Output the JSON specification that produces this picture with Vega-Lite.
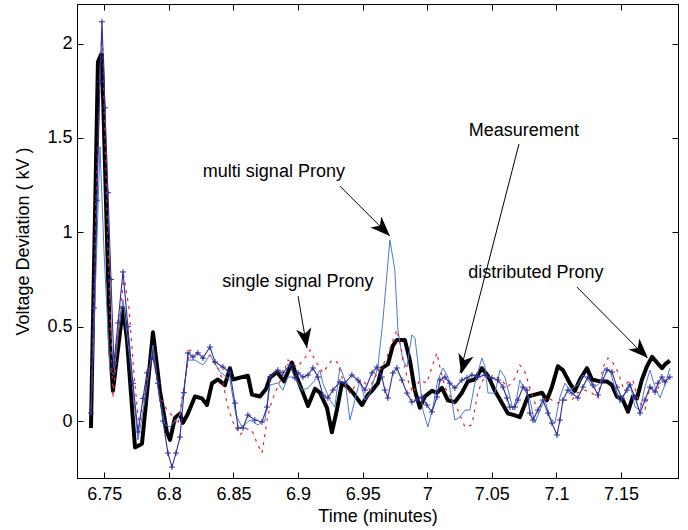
{
  "$schema": "https://vega.github.io/schema/vega-lite/v6.json",
  "width": 601,
  "height": 474,
  "autosize": "none",
  "padding": {"left": 77, "top": 4, "right": 10, "bottom": 52},
  "background": "white",
  "config": {
    "view": {"stroke": "black", "strokeWidth": 1},
    "axis": {"grid": false, "domainColor": "black", "domainWidth": 1, "tickColor": "black", "tickSize": -6, "tickWidth": 1, "labelColor": "black", "labelFont": "Liberation Sans", "labelFontSize": 18, "titleFont": "Liberation Sans", "titleFontSize": 18, "titleFontWeight": "normal", "titleColor": "black"}
  },
  "datasets": {
    "meas": [
      {"t": 6.7397, "v": -0.037}, {"t": 6.7451, "v": 1.903}, {"t": 6.7474, "v": 1.941}, {"t": 6.7482, "v": 1.94},
      {"t": 6.7544, "v": 0.41}, {"t": 6.7567, "v": 0.16}, {"t": 6.7645, "v": 0.60}, {"t": 6.7676, "v": 0.43},
      {"t": 6.7738, "v": -0.14}, {"t": 6.7792, "v": -0.12}, {"t": 6.7877, "v": 0.47}, {"t": 6.7931, "v": 0.16},
      {"t": 6.7985, "v": -0.06}, {"t": 6.8009, "v": -0.10}, {"t": 6.8047, "v": 0.016}, {"t": 6.8086, "v": 0.04},
      {"t": 6.8109, "v": -0.01}, {"t": 6.8148, "v": 0.04}, {"t": 6.8202, "v": 0.13}, {"t": 6.8256, "v": 0.12},
      {"t": 6.8295, "v": 0.085}, {"t": 6.8334, "v": 0.20}, {"t": 6.838, "v": 0.22}, {"t": 6.8434, "v": 0.19},
      {"t": 6.8473, "v": 0.28}, {"t": 6.8496, "v": 0.22}, {"t": 6.855, "v": 0.23}, {"t": 6.8612, "v": 0.24},
      {"t": 6.8643, "v": 0.14}, {"t": 6.8705, "v": 0.13}, {"t": 6.8752, "v": 0.17}, {"t": 6.8783, "v": 0.23},
      {"t": 6.8837, "v": 0.26}, {"t": 6.8891, "v": 0.21}, {"t": 6.8953, "v": 0.31}, {"t": 6.8992, "v": 0.23},
      {"t": 6.9038, "v": 0.15}, {"t": 6.9077, "v": 0.08}, {"t": 6.9131, "v": 0.17}, {"t": 6.9169, "v": 0.15},
      {"t": 6.9224, "v": 0.07}, {"t": 6.9262, "v": -0.06}, {"t": 6.9301, "v": 0.06}, {"t": 6.934, "v": 0.20},
      {"t": 6.9386, "v": 0.18}, {"t": 6.9425, "v": 0.15}, {"t": 6.9495, "v": 0.085}, {"t": 6.9541, "v": 0.14},
      {"t": 6.9572, "v": 0.16}, {"t": 6.9618, "v": 0.20}, {"t": 6.9649, "v": 0.28}, {"t": 6.9695, "v": 0.30},
      {"t": 6.9734, "v": 0.40}, {"t": 6.9765, "v": 0.43}, {"t": 6.9827, "v": 0.43}, {"t": 6.9866, "v": 0.32},
      {"t": 6.9905, "v": 0.16}, {"t": 6.9943, "v": 0.07}, {"t": 6.9982, "v": 0.13}, {"t": 7.0036, "v": 0.16},
      {"t": 7.0075, "v": 0.15}, {"t": 7.0114, "v": 0.175}, {"t": 7.016, "v": 0.11}, {"t": 7.0214, "v": 0.10},
      {"t": 7.0268, "v": 0.15}, {"t": 7.0315, "v": 0.21}, {"t": 7.0369, "v": 0.22}, {"t": 7.0423, "v": 0.28},
      {"t": 7.047, "v": 0.24}, {"t": 7.0524, "v": 0.16}, {"t": 7.0578, "v": 0.095}, {"t": 7.0625, "v": 0.04},
      {"t": 7.0679, "v": 0.03}, {"t": 7.0717, "v": 0.02}, {"t": 7.0779, "v": 0.13}, {"t": 7.0833, "v": 0.14},
      {"t": 7.0888, "v": 0.15}, {"t": 7.0926, "v": 0.11}, {"t": 7.0965, "v": 0.18}, {"t": 7.1011, "v": 0.29},
      {"t": 7.105, "v": 0.27}, {"t": 7.1104, "v": 0.20}, {"t": 7.1143, "v": 0.16}, {"t": 7.1182, "v": 0.22},
      {"t": 7.1236, "v": 0.28}, {"t": 7.1275, "v": 0.22}, {"t": 7.1337, "v": 0.21}, {"t": 7.1391, "v": 0.21},
      {"t": 7.143, "v": 0.19}, {"t": 7.1468, "v": 0.13}, {"t": 7.1515, "v": 0.11}, {"t": 7.1554, "v": 0.05},
      {"t": 7.1592, "v": 0.13}, {"t": 7.1623, "v": 0.12}, {"t": 7.1662, "v": 0.22}, {"t": 7.1701, "v": 0.29},
      {"t": 7.174, "v": 0.34}, {"t": 7.1778, "v": 0.31}, {"t": 7.1817, "v": 0.28}, {"t": 7.184, "v": 0.30},
      {"t": 7.1878, "v": 0.32}
    ],
    "multi": [
      {"t": 6.7397, "v": 0.042}, {"t": 6.7436, "v": 0.80}, {"t": 6.7467, "v": 1.453}, {"t": 6.7498, "v": 0.90},
      {"t": 6.7544, "v": 0.270}, {"t": 6.7575, "v": 0.244}, {"t": 6.7606, "v": 0.45}, {"t": 6.7645, "v": 0.642},
      {"t": 6.7699, "v": 0.323}, {"t": 6.7761, "v": -0.101}, {"t": 6.7815, "v": 0.111}, {"t": 6.7877, "v": 0.403},
      {"t": 6.7931, "v": 0.111}, {"t": 6.797, "v": -0.02}, {"t": 6.8009, "v": -0.032}, {"t": 6.8047, "v": 0.0},
      {"t": 6.8086, "v": 0.032}, {"t": 6.8148, "v": 0.323}, {"t": 6.8202, "v": 0.323}, {"t": 6.8264, "v": 0.297},
      {"t": 6.8318, "v": 0.350}, {"t": 6.8396, "v": 0.260}, {"t": 6.8473, "v": 0.217}, {"t": 6.8519, "v": 0.032},
      {"t": 6.8566, "v": -0.032}, {"t": 6.8628, "v": 0.005}, {"t": 6.869, "v": -0.021}, {"t": 6.8744, "v": 0.005},
      {"t": 6.8783, "v": 0.191}, {"t": 6.8844, "v": 0.201}, {"t": 6.8883, "v": 0.164}, {"t": 6.8922, "v": 0.233},
      {"t": 6.8976, "v": 0.233}, {"t": 6.903, "v": 0.164}, {"t": 6.9077, "v": 0.175}, {"t": 6.9131, "v": 0.217},
      {"t": 6.9169, "v": 0.270}, {"t": 6.9192, "v": 0.201}, {"t": 6.9247, "v": 0.111}, {"t": 6.9285, "v": 0.074},
      {"t": 6.9324, "v": 0.286}, {"t": 6.9363, "v": 0.217}, {"t": 6.9402, "v": 0.005}, {"t": 6.944, "v": 0.111},
      {"t": 6.9479, "v": 0.217}, {"t": 6.9518, "v": 0.111}, {"t": 6.9556, "v": 0.148}, {"t": 6.9618, "v": 0.286},
      {"t": 6.9657, "v": 0.535}, {"t": 6.9711, "v": 0.960}, {"t": 6.9749, "v": 0.801}, {"t": 6.9773, "v": 0.483},
      {"t": 6.9811, "v": 0.323}, {"t": 6.9843, "v": 0.286}, {"t": 6.9881, "v": 0.456}, {"t": 6.9905, "v": 0.440},
      {"t": 6.9928, "v": 0.308}, {"t": 6.9966, "v": 0.058}, {"t": 7.0005, "v": -0.032}, {"t": 7.0044, "v": 0.074},
      {"t": 7.0082, "v": 0.217}, {"t": 7.0121, "v": 0.281}, {"t": 7.016, "v": 0.233}, {"t": 7.0191, "v": 0.111},
      {"t": 7.0214, "v": 0.005}, {"t": 7.0253, "v": 0.021}, {"t": 7.0292, "v": 0.058}, {"t": 7.033, "v": 0.058},
      {"t": 7.0369, "v": 0.201}, {"t": 7.0423, "v": 0.334}, {"t": 7.0447, "v": 0.286}, {"t": 7.047, "v": 0.148},
      {"t": 7.0524, "v": 0.148}, {"t": 7.0563, "v": 0.270}, {"t": 7.0601, "v": 0.233}, {"t": 7.064, "v": 0.127},
      {"t": 7.0663, "v": 0.058}, {"t": 7.0694, "v": 0.127}, {"t": 7.0717, "v": 0.217}, {"t": 7.0756, "v": 0.164},
      {"t": 7.0795, "v": 0.111}, {"t": 7.0833, "v": -0.011}, {"t": 7.0872, "v": 0.058}, {"t": 7.0911, "v": 0.111},
      {"t": 7.0949, "v": 0.021}, {"t": 7.0988, "v": -0.011}, {"t": 7.1027, "v": 0.127}, {"t": 7.1066, "v": 0.201},
      {"t": 7.1104, "v": 0.164}, {"t": 7.1166, "v": 0.191}, {"t": 7.1205, "v": 0.244}, {"t": 7.1244, "v": 0.217},
      {"t": 7.1283, "v": 0.175}, {"t": 7.1337, "v": 0.201}, {"t": 7.1375, "v": 0.281}, {"t": 7.1414, "v": 0.270},
      {"t": 7.1453, "v": 0.175}, {"t": 7.1493, "v": 0.095}, {"t": 7.153, "v": 0.148}, {"t": 7.1569, "v": 0.201},
      {"t": 7.1608, "v": 0.074}, {"t": 7.1647, "v": 0.058}, {"t": 7.1685, "v": 0.180}, {"t": 7.1724, "v": 0.270},
      {"t": 7.1763, "v": 0.180}, {"t": 7.1801, "v": 0.122}, {"t": 7.184, "v": 0.191}, {"t": 7.1878, "v": 0.281}
    ],
    "single": [
      {"t": 6.7397, "v": 0.04}, {"t": 6.7436, "v": 1.17}, {"t": 6.7482, "v": 2.09}, {"t": 6.7529, "v": 0.90},
      {"t": 6.7567, "v": 0.122}, {"t": 6.7606, "v": 0.45}, {"t": 6.7652, "v": 0.77}, {"t": 6.7691, "v": 0.60},
      {"t": 6.773, "v": 0.25}, {"t": 6.7769, "v": -0.03}, {"t": 6.7823, "v": 0.20}, {"t": 6.7877, "v": 0.35},
      {"t": 6.7931, "v": 0.13}, {"t": 6.7985, "v": 0.06}, {"t": 6.8024, "v": 0.03}, {"t": 6.807, "v": -0.02},
      {"t": 6.8109, "v": 0.15}, {"t": 6.8163, "v": 0.376}, {"t": 6.8217, "v": 0.36}, {"t": 6.8264, "v": 0.33},
      {"t": 6.8318, "v": 0.35}, {"t": 6.8357, "v": 0.30}, {"t": 6.8396, "v": 0.26}, {"t": 6.8419, "v": 0.20},
      {"t": 6.8457, "v": 0.074}, {"t": 6.8496, "v": -0.005}, {"t": 6.855, "v": -0.074}, {"t": 6.8597, "v": -0.04},
      {"t": 6.8643, "v": -0.048}, {"t": 6.8682, "v": -0.117}, {"t": 6.8721, "v": -0.170}, {"t": 6.876, "v": 0.005},
      {"t": 6.8783, "v": 0.074}, {"t": 6.8821, "v": 0.148}, {"t": 6.8875, "v": 0.233}, {"t": 6.8922, "v": 0.323},
      {"t": 6.8992, "v": 0.286}, {"t": 6.9053, "v": 0.334}, {"t": 6.9092, "v": 0.376}, {"t": 6.9131, "v": 0.323},
      {"t": 6.9192, "v": 0.255}, {"t": 6.9262, "v": 0.323}, {"t": 6.9301, "v": 0.313}, {"t": 6.9347, "v": 0.217},
      {"t": 6.9402, "v": 0.148}, {"t": 6.9456, "v": 0.201}, {"t": 6.9502, "v": 0.217}, {"t": 6.9556, "v": 0.164},
      {"t": 6.958, "v": 0.217}, {"t": 6.9649, "v": 0.286}, {"t": 6.9688, "v": 0.339}, {"t": 6.9726, "v": 0.414},
      {"t": 6.9765, "v": 0.483}, {"t": 6.9804, "v": 0.361}, {"t": 6.9827, "v": 0.286}, {"t": 6.985, "v": 0.217},
      {"t": 6.9889, "v": 0.148}, {"t": 6.9943, "v": 0.217}, {"t": 6.9997, "v": 0.201}, {"t": 7.0036, "v": 0.286},
      {"t": 7.0075, "v": 0.361}, {"t": 7.0098, "v": 0.286}, {"t": 7.0137, "v": 0.180}, {"t": 7.0191, "v": 0.111},
      {"t": 7.0237, "v": 0.058}, {"t": 7.0292, "v": -0.032}, {"t": 7.0346, "v": -0.021}, {"t": 7.0392, "v": 0.154},
      {"t": 7.0431, "v": 0.217}, {"t": 7.0485, "v": 0.233}, {"t": 7.0539, "v": 0.233}, {"t": 7.0586, "v": 0.207},
      {"t": 7.0625, "v": 0.180}, {"t": 7.0679, "v": 0.228}, {"t": 7.0717, "v": 0.297}, {"t": 7.0756, "v": 0.260},
      {"t": 7.0795, "v": 0.175}, {"t": 7.0833, "v": 0.095}, {"t": 7.0872, "v": 0.074}, {"t": 7.0926, "v": 0.127},
      {"t": 7.0965, "v": 0.111}, {"t": 7.1011, "v": 0.095}, {"t": 7.1066, "v": 0.111}, {"t": 7.112, "v": 0.111},
      {"t": 7.1159, "v": 0.148}, {"t": 7.1221, "v": 0.164}, {"t": 7.1275, "v": 0.148}, {"t": 7.1321, "v": 0.122},
      {"t": 7.136, "v": 0.286}, {"t": 7.1399, "v": 0.334}, {"t": 7.1437, "v": 0.308}, {"t": 7.1476, "v": 0.260},
      {"t": 7.1515, "v": 0.180}, {"t": 7.1554, "v": 0.207}, {"t": 7.1592, "v": 0.217}, {"t": 7.1631, "v": 0.111},
      {"t": 7.1685, "v": 0.06}, {"t": 7.1724, "v": 0.180}, {"t": 7.1778, "v": 0.164}, {"t": 7.1825, "v": 0.217},
      {"t": 7.1878, "v": 0.233}
    ],
    "dist": [
      {"t": 6.7397, "v": 0.042}, {"t": 6.742, "v": 0.60}, {"t": 6.7443, "v": 1.17}, {"t": 6.7467, "v": 1.80},
      {"t": 6.7482, "v": 2.116}, {"t": 6.7505, "v": 1.66}, {"t": 6.7529, "v": 1.21}, {"t": 6.7552, "v": 0.75},
      {"t": 6.7575, "v": 0.302}, {"t": 6.7606, "v": 0.52}, {"t": 6.7645, "v": 0.790}, {"t": 6.7683, "v": 0.50},
      {"t": 6.7722, "v": 0.20}, {"t": 6.7761, "v": -0.058}, {"t": 6.78, "v": 0.12}, {"t": 6.783, "v": 0.255},
      {"t": 6.7877, "v": 0.339}, {"t": 6.7916, "v": 0.20}, {"t": 6.7954, "v": 0.0}, {"t": 6.7993, "v": -0.17},
      {"t": 6.8024, "v": -0.244}, {"t": 6.8055, "v": -0.17}, {"t": 6.8086, "v": -0.085}, {"t": 6.8117, "v": 0.15},
      {"t": 6.8148, "v": 0.361}, {"t": 6.8187, "v": 0.339}, {"t": 6.8225, "v": 0.361}, {"t": 6.8264, "v": 0.334},
      {"t": 6.8318, "v": 0.392}, {"t": 6.8357, "v": 0.313}, {"t": 6.8419, "v": 0.286}, {"t": 6.8473, "v": 0.255},
      {"t": 6.8512, "v": 0.095}, {"t": 6.8535, "v": -0.037}, {"t": 6.8574, "v": -0.037}, {"t": 6.8612, "v": 0.032},
      {"t": 6.8666, "v": 0.005}, {"t": 6.8721, "v": -0.005}, {"t": 6.876, "v": 0.074}, {"t": 6.8783, "v": 0.233},
      {"t": 6.8844, "v": 0.270}, {"t": 6.8883, "v": 0.255}, {"t": 6.8937, "v": 0.297}, {"t": 6.8976, "v": 0.228},
      {"t": 6.9, "v": 0.255}, {"t": 6.9038, "v": 0.233}, {"t": 6.9077, "v": 0.244}, {"t": 6.9115, "v": 0.281},
      {"t": 6.9154, "v": 0.233}, {"t": 6.9192, "v": 0.138}, {"t": 6.9231, "v": 0.122}, {"t": 6.927, "v": 0.164},
      {"t": 6.9324, "v": 0.207}, {"t": 6.9363, "v": 0.201}, {"t": 6.9417, "v": 0.244}, {"t": 6.9464, "v": 0.217},
      {"t": 6.9518, "v": 0.164}, {"t": 6.9572, "v": 0.255}, {"t": 6.9611, "v": 0.286}, {"t": 6.9649, "v": 0.233},
      {"t": 6.9672, "v": 0.164}, {"t": 6.9695, "v": 0.122}, {"t": 6.9734, "v": 0.255}, {"t": 6.9765, "v": 0.281},
      {"t": 6.9804, "v": 0.217}, {"t": 6.9843, "v": 0.148}, {"t": 6.9881, "v": 0.101}, {"t": 6.992, "v": 0.111},
      {"t": 6.9959, "v": 0.127}, {"t": 6.9997, "v": 0.085}, {"t": 7.0036, "v": 0.048}, {"t": 7.0075, "v": 0.127},
      {"t": 7.0098, "v": 0.217}, {"t": 7.0137, "v": 0.233}, {"t": 7.0175, "v": 0.201}, {"t": 7.0214, "v": 0.175},
      {"t": 7.0268, "v": 0.217}, {"t": 7.0307, "v": 0.228}, {"t": 7.0346, "v": 0.244}, {"t": 7.0392, "v": 0.233},
      {"t": 7.0447, "v": 0.244}, {"t": 7.0501, "v": 0.228}, {"t": 7.0547, "v": 0.217}, {"t": 7.0586, "v": 0.180},
      {"t": 7.0617, "v": 0.122}, {"t": 7.064, "v": 0.074}, {"t": 7.0679, "v": 0.074}, {"t": 7.0702, "v": 0.111},
      {"t": 7.0741, "v": 0.180}, {"t": 7.0772, "v": 0.164}, {"t": 7.0795, "v": 0.042}, {"t": 7.0818, "v": 0.005},
      {"t": 7.0857, "v": 0.058}, {"t": 7.0895, "v": 0.111}, {"t": 7.0934, "v": 0.042}, {"t": 7.0965, "v": -0.011},
      {"t": 7.1004, "v": -0.074}, {"t": 7.1027, "v": 0.005}, {"t": 7.105, "v": 0.111}, {"t": 7.1089, "v": 0.164},
      {"t": 7.112, "v": 0.148}, {"t": 7.1166, "v": 0.122}, {"t": 7.1205, "v": 0.180}, {"t": 7.1244, "v": 0.233},
      {"t": 7.1283, "v": 0.191}, {"t": 7.1321, "v": 0.138}, {"t": 7.136, "v": 0.217}, {"t": 7.1391, "v": 0.270},
      {"t": 7.143, "v": 0.260}, {"t": 7.1468, "v": 0.180}, {"t": 7.1507, "v": 0.122}, {"t": 7.1546, "v": 0.164},
      {"t": 7.1569, "v": 0.191}, {"t": 7.1608, "v": 0.127}, {"t": 7.1647, "v": 0.042}, {"t": 7.1685, "v": 0.111},
      {"t": 7.1724, "v": 0.180}, {"t": 7.1763, "v": 0.154}, {"t": 7.1786, "v": 0.201}, {"t": 7.1817, "v": 0.233},
      {"t": 7.184, "v": 0.207}, {"t": 7.1878, "v": 0.233}
    ],
    "notes": [
      {"label": "multi signal Prony", "t": 6.8813, "v": 1.318},
      {"label": "single signal Prony", "t": 6.8999, "v": 0.739},
      {"label": "Measurement", "t": 7.0748, "v": 1.537},
      {"label": "distributed Prony", "t": 7.0841, "v": 0.784}
    ],
    "arrows": [
      {"label": "multi", "t": 6.9324, "v": 1.245, "t2": 6.9711, "v2": 0.980},
      {"label": "single", "t": 6.9, "v": 0.662, "t2": 6.9069, "v2": 0.387},
      {"label": "meas", "t": 7.071, "v": 1.468, "t2": 7.0253, "v2": 0.254},
      {"label": "dist", "t": 7.1159, "v": 0.710, "t2": 7.1701, "v2": 0.334}
    ],
    "heads": [
      {"label": "multi", "t": 6.9651, "v": 1.022},
      {"label": "single", "t": 6.9055, "v": 0.444},
      {"label": "meas", "t": 7.0283, "v": 0.306},
      {"label": "dist", "t": 7.1648, "v": 0.375}
    ]
  },
  "layer": [
    {
      "data": {"name": "meas"},
      "mark": {"type": "line", "color": "black", "strokeWidth": 4, "strokeJoin": "round"},
      "encoding": {
        "x": {"field": "t", "type": "quantitative", "scale": {"domain": [6.7289, 7.1941]},
              "axis": {"orient": "bottom", "values": [6.75, 6.8, 6.85, 6.9, 6.95, 7, 7.05, 7.1, 7.15], "format": "~g", "labelPadding": 13, "title": "Time (minutes)", "titlePadding": 4}},
        "y": {"field": "v", "type": "quantitative", "scale": {"domain": [-0.302, 2.21]},
              "axis": {"orient": "left", "values": [0, 0.5, 1, 1.5, 2], "format": "~g", "labelPadding": 11, "title": "Voltage Deviation ( kV )", "titlePadding": 14}}
      }
    },
    {
      "data": {"name": "multi"},
      "mark": {"type": "line", "color": "#4a78d0", "strokeWidth": 1},
      "encoding": {
        "x": {"field": "t", "type": "quantitative", "scale": {"domain": [6.7289, 7.1941]},
              "axis": {"orient": "top", "values": [6.75, 6.8, 6.85, 6.9, 6.95, 7, 7.05, 7.1, 7.15], "labels": false, "title": null}},
        "y": {"field": "v", "type": "quantitative", "scale": {"domain": [-0.302, 2.21]},
              "axis": {"orient": "right", "values": [0, 0.5, 1, 1.5, 2], "labels": false, "title": null}}
      }
    },
    {
      "data": {"name": "single"},
      "mark": {"type": "line", "color": "#e3262b", "strokeWidth": 1.2, "strokeDash": [3, 5]},
      "encoding": {
        "x": {"field": "t", "type": "quantitative", "scale": {"domain": [6.7289, 7.1941]}, "axis": null},
        "y": {"field": "v", "type": "quantitative", "scale": {"domain": [-0.302, 2.21]}, "axis": null}
      }
    },
    {
      "data": {"name": "dist"},
      "mark": {"type": "line", "color": "#2e2e9c", "strokeWidth": 1.1},
      "encoding": {
        "x": {"field": "t", "type": "quantitative", "scale": {"domain": [6.7289, 7.1941]}, "axis": null},
        "y": {"field": "v", "type": "quantitative", "scale": {"domain": [-0.302, 2.21]}, "axis": null}
      }
    },
    {
      "data": {"name": "dist"},
      "mark": {"type": "point", "shape": "M-1,0L1,0M0,-1L0,1", "filled": false, "stroke": "#2e2e9c", "strokeWidth": 1, "size": 36, "opacity": 1},
      "encoding": {
        "x": {"field": "t", "type": "quantitative", "scale": {"domain": [6.7289, 7.1941]}, "axis": null},
        "y": {"field": "v", "type": "quantitative", "scale": {"domain": [-0.302, 2.21]}, "axis": null}
      }
    },
    {
      "data": {"name": "arrows"},
      "mark": {"type": "rule", "color": "black", "strokeWidth": 1},
      "encoding": {
        "x": {"field": "t", "type": "quantitative", "scale": {"domain": [6.7289, 7.1941]}, "axis": null},
        "y": {"field": "v", "type": "quantitative", "scale": {"domain": [-0.302, 2.21]}, "axis": null},
        "x2": {"field": "t2"},
        "y2": {"field": "v2"}
      }
    },
    {
      "data": {"name": "heads"},
      "transform": [{"filter": "datum.label == 'multi' || datum.label == 'dist'"}],
      "mark": {"type": "point", "shape": "M0,-1L0.7,0.8L0,0.3L-0.7,0.8Z", "filled": true, "color": "black", "size": 484, "opacity": 1, "angle": 135},
      "encoding": {
        "x": {"field": "t", "type": "quantitative", "scale": {"domain": [6.7289, 7.1941]}, "axis": null},
        "y": {"field": "v", "type": "quantitative", "scale": {"domain": [-0.302, 2.21]}, "axis": null}
      }
    },
    {
      "data": {"name": "heads"},
      "transform": [{"filter": "datum.label == 'single'"}],
      "mark": {"type": "point", "shape": "M0,-1L0.7,0.8L0,0.3L-0.7,0.8Z", "filled": true, "color": "black", "size": 484, "opacity": 1, "angle": 170.4},
      "encoding": {
        "x": {"field": "t", "type": "quantitative", "scale": {"domain": [6.7289, 7.1941]}, "axis": null},
        "y": {"field": "v", "type": "quantitative", "scale": {"domain": [-0.302, 2.21]}, "axis": null}
      }
    },
    {
      "data": {"name": "heads"},
      "transform": [{"filter": "datum.label == 'meas'"}],
      "mark": {"type": "point", "shape": "M0,-1L0.7,0.8L0,0.3L-0.7,0.8Z", "filled": true, "color": "black", "size": 484, "opacity": 1, "angle": 194.2},
      "encoding": {
        "x": {"field": "t", "type": "quantitative", "scale": {"domain": [6.7289, 7.1941]}, "axis": null},
        "y": {"field": "v", "type": "quantitative", "scale": {"domain": [-0.302, 2.21]}, "axis": null}
      }
    },
    {
      "data": {"name": "notes"},
      "mark": {"type": "text", "font": "Liberation Sans", "fontSize": 18, "color": "black", "align": "center", "baseline": "middle"},
      "encoding": {
        "x": {"field": "t", "type": "quantitative", "scale": {"domain": [6.7289, 7.1941]}, "axis": null},
        "y": {"field": "v", "type": "quantitative", "scale": {"domain": [-0.302, 2.21]}, "axis": null},
        "text": {"field": "label"}
      }
    }
  ],
  "resolve": {"axis": {"x": "independent", "y": "independent"}}
}
